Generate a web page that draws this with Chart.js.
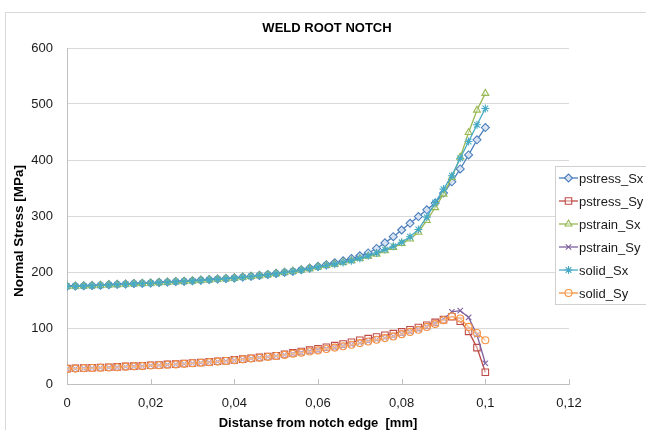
<!DOCTYPE html>
<html><head><meta charset="utf-8">
<script src="https://cdn.jsdelivr.net/npm/chart.js@4.4.1/dist/chart.umd.min.js"></script>
<style>
html,body{margin:0;padding:0;background:#fff;overflow:hidden;width:646px;height:430px;}
#frame{position:absolute;left:5px;top:12px;width:700px;height:500px;border:1px solid #d9d9d9;box-sizing:border-box;}
#wrap{position:absolute;left:0;top:0;width:654px;height:430px;}
</style></head><body>
<div id="frame"></div>
<div id="wrap"><canvas id="c" width="654" height="430"></canvas></div>
<script>
const chartTitle = 'WELD ROOT NOTCH';
const xTitle = 'Distanse from notch edge  [mm]';
const yTitle = 'Normal Stress [MPa]';
const seriesNames = ['pstress_Sx','pstress_Sy','pstrain_Sx','pstrain_Sy','solid_Sx','solid_Sy'];
const xTickLabels = ['0','0,02','0,04','0,06','0,08','0,1','0,12'];
const yTickLabels = ['0','100','200','300','400','500','600'];

const xValues = [0,0.002,0.004,0.006,0.008,0.01,0.012,0.014,0.016,0.018,
  0.02,0.022,0.024,0.026,0.028,0.03,0.032,0.034,0.036,0.038,
  0.04,0.042,0.044,0.046,0.048,0.05,0.052,0.054,0.056,0.058,
  0.06,0.062,0.064,0.066,0.068,0.07,0.072,0.074,0.076,0.078,
  0.08,0.082,0.084,0.086,0.088,0.09,0.092,0.094,0.096,0.098,0.1];

const pstressSx = [174.5,175,175.5,176,176.5,177.5,178,178.5,179.5,180,
  180.5,181.5,182,183,183.5,184.5,185.5,186.5,187.5,188.5,
  189.5,191,192.5,194,195.5,197.5,199.5,201.5,204,207,
  210,213,216.5,220,224,229,234,242,252,263,
  275,287,299,311,323,341,361,384,409,436,458];
const pstressSy = [27.5,28,28.5,29,29.5,30,30.5,31.5,32,32.5,
  33.5,34,35,35.5,36.5,37.5,38.5,39.5,40.5,41.5,
  43,44.5,46,47.5,49,50.5,53,55.5,58,60.5,
  63,65.5,68.5,71.5,74.5,78,81,84,87,90,
  93,97,101,105,110,115,120,112,94,65,21];
const pstrainSx = [174,174.5,175,175.5,176,177,177.5,178,179,179.5,
  180,181,181.5,182.5,183,184,185,186,187,188,
  189,190.5,192,193.5,195,197,199,201,203.5,206,
  209,211.5,214,217,220,224,228,232,238,244,
  251,259,271,292,315,339,369,405,449,489,519];
const pstrainSy = [27,27.5,28,28.5,29,29.5,30,31,31.5,32,
  33,33.5,34.5,35,36,37,38,39,40,41,
  42.5,44,45.5,47,48.5,50,52,54,56,58,
  60,62.5,65,67.5,70,73,76,79,82,85,
  89,93,97,102,108,116,129,131,119,88,37];
const solidSx = [174,174.5,175,175.5,176,177,177.5,178,179,179.5,
  180,181,181.5,182.5,183,184,185,186,187,188,
  189,190.5,192,193.5,195,197,199,201,203.5,206,
  209,211.5,214,217,220,224,229,234,240,246,
  253,263,276,298,324,348,372,403,433,463,492];
const solidSy = [27,27.5,28,28.5,29,29.5,30,31,31.5,32,
  33,33.5,34.5,35,36,37,38,39,40,41,
  42.5,44,45.5,47,48.5,50,52,54,56,58,
  60,62.5,65,67.5,70,73,76,79,82,85,
  89,93,97,102,107,114,121,117,102,91,78];

const FONT = "'Liberation Sans', Arial, sans-serif";
const TXT = '#1a1a1a';

const seriesValues = [pstressSx, pstressSy, pstrainSx, pstrainSy, solidSx, solidSy];
const styles = [
  {color:'#4a7ebb', fill:'rgba(220,230,245,0.9)', pointStyle:'rectRot', r:4},
  {color:'#be4b48', fill:'rgba(255,255,255,0.4)', pointStyle:'rect', r:4.6},
  {color:'#98b954', fill:'rgba(255,255,255,0.4)', pointStyle:'triangle', r:4},
  {color:'#7d60a0', fill:'rgba(255,255,255,0)', pointStyle:'crossRot', r:3.8},
  {color:'#46aac5', fill:'rgba(70,170,197,0.8)', pointStyle:'star', r:4},
  {color:'#f69240', fill:'rgba(255,255,255,0.4)', pointStyle:'circle', r:3.5}
];

const datasets = seriesNames.map((name, i) => ({
  label: name,
  data: xValues.map((x, k) => ({x: x, y: seriesValues[i][k]})),
  borderColor: styles[i].color,
  backgroundColor: styles[i].fill,
  pointStyle: styles[i].pointStyle,
  pointRadius: styles[i].r,
  pointBorderWidth: 1.1,
  pointBorderColor: styles[i].color,
  pointBackgroundColor: styles[i].fill,
  borderWidth: 1.3,
  tension: 0,
  fill: false,
  showLine: true,
  order: seriesNames.length - i
}));

const extras = {
  id: 'extras',
  afterDatasetsDraw(chart) {
    const ctx = chart.ctx;
    const xs = chart.scales.x, ys = chart.scales.y;
    ctx.save();
    ctx.strokeStyle = '#bfbfbf';
    ctx.lineWidth = 1;
    xs.ticks.forEach(t => {
      const px = Math.round(xs.getPixelForValue(t.value)) + 0.5;
      ctx.beginPath();
      ctx.moveTo(px, ys.bottom);
      ctx.lineTo(px, ys.bottom - 5);
      ctx.stroke();
    });
    ctx.restore();
  },
  afterDraw(chart) {
    const ctx = chart.ctx;
    const ca = chart.chartArea;
    // chart title
    ctx.save();
    ctx.font = 'bold 13px ' + FONT;
    ctx.fillStyle = '#000';
    ctx.textAlign = 'center';
    ctx.textBaseline = 'middle';
    ctx.fillText(chartTitle, 327, 28);
    ctx.restore();
    // y axis title
    ctx.save();
    ctx.translate(19, (ca.top + ca.bottom) / 2 + 15);
    ctx.rotate(-Math.PI / 2);
    ctx.font = 'bold 13.5px ' + FONT;
    ctx.fillStyle = '#000';
    ctx.textAlign = 'center';
    ctx.textBaseline = 'middle';
    ctx.fillText(yTitle, 0, 0);
    ctx.restore();
    // legend
    ctx.save();
    const bx = 555.5, by = 166.5, bw = 110, bh = 138;
    ctx.fillStyle = '#fff';
    ctx.fillRect(bx, by, bw, bh);
    ctx.strokeStyle = '#d0d0d0';
    ctx.lineWidth = 1;
    ctx.strokeRect(bx, by, bw, bh);
    const dp = Chart.helpers && Chart.helpers.drawPoint;
    seriesNames.forEach((name, i) => {
      const cy = 178 + i * 23;
      ctx.strokeStyle = styles[i].color;
      ctx.lineWidth = 1.3;
      ctx.beginPath();
      ctx.moveTo(559, cy);
      ctx.lineTo(578, cy);
      ctx.stroke();
      if (dp) {
        ctx.fillStyle = styles[i].fill;
        ctx.strokeStyle = styles[i].color;
        ctx.lineWidth = 1.1;
        dp(ctx, {pointStyle: styles[i].pointStyle, radius: styles[i].r, borderWidth: 1.1, rotation: 0}, 568.5, cy);
      }
      ctx.fillStyle = TXT;
      ctx.font = '13px ' + FONT;
      ctx.textAlign = 'left';
      ctx.textBaseline = 'middle';
      ctx.fillText(name, 579, cy + 1);
    });
    ctx.restore();
  }
};

new Chart(document.getElementById('c'), {
  type: 'line',
  data: { datasets: datasets },
  plugins: [extras],
  options: {
    responsive: false,
    animation: false,
    devicePixelRatio: 1,
    layout: { padding: { left: 0, right: 654 - 569, top: 48, bottom: 0 } },
    plugins: {
      legend: { display: false },
      tooltip: { enabled: false },
      title: { display: false }
    },
    scales: {
      x: {
        type: 'linear', min: 0, max: 0.12,
        ticks: { stepSize: 0.02, callback: (v, i) => xTickLabels[i], color: TXT,
                 font: { family: FONT, size: 13 }, padding: 12, maxRotation: 0, autoSkip: false },
        grid: { display: true, drawOnChartArea: false, drawTicks: false },
        border: { display: true, color: '#bfbfbf' },
        title: { display: true, text: xTitle, color: '#000',
                 font: { family: FONT, size: 13, weight: 'bold', lineHeight: 1 }, padding: 0 },
        afterFit: s => { s.height = 46; }
      },
      y: {
        min: 0, max: 600,
        ticks: { stepSize: 100, callback: (v, i) => yTickLabels[i], color: TXT,
                 font: { family: FONT, size: 13 }, padding: 14 },
        grid: { color: '#d9d9d9', drawTicks: false },
        border: { display: true, color: '#bfbfbf' },
        afterFit: s => { s.width = 67; }
      }
    }
  }
});
</script>
</body></html>
